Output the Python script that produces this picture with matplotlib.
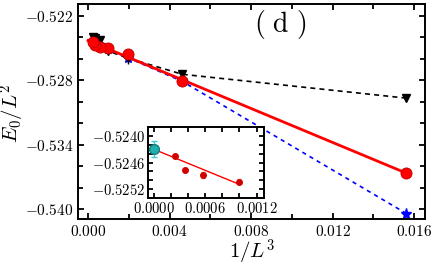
import numpy as np
import matplotlib
matplotlib.use("Agg")
import matplotlib.pyplot as plt
from matplotlib.ticker import MultipleLocator, FixedLocator, FuncFormatter

plt.rcParams['mathtext.fontset'] = 'cm'
plt.rcParams['font.family'] = 'serif'
plt.rcParams['font.serif'] = ['DejaVu Serif']

# system sizes L = 4, 6, 8, 10, 12, 14, 16
L = np.array([4, 6, 8, 10, 12, 14, 16])
x = 1.0 / L**3

# energies per site
e_black = [-0.52966, -0.52744, -0.52594, -0.52528, -0.52425, -0.52410, -0.52395]
err_black = [0.0003, 0.0002, 0.0005, 0.0002, 0.0001, 0.0001, 0.0001]
e_blue = [-0.54040, -0.52810, -0.52590, -0.52510, -0.52470, -0.52460, -0.52430]
err_blue = [0.0003, 0.0002, 0.0003, 0.0001, 0.0001, 0.0001, 0.0001]
e_red = [-0.53660, -0.52803, -0.52559, -0.52503, -0.52488, -0.52476, -0.52445]

# linear fit of red points
fit_e0 = -0.5243
fit_slope = -0.79

# inset data (L = 10, 12, 14, 16) and extrapolated value
inset_x = x[3:]
inset_e = e_red[3:]
inset_err = [0.00005, 0.00006, 0.00003, 0.00003]
extrap_e = -0.5243
extrap_err = 0.00018
inset_yticks = [-0.5252, -0.5246, -0.5240]

fig = plt.figure(figsize=(4.36, 2.67), dpi=100)
ax = fig.add_axes([0.179, 0.180, 0.796, 0.805])

ax.errorbar(x, e_black, yerr=err_black, fmt='v', color='black', ms=6,
            ls=(0, (3, 2.5)), lw=1.2, capsize=0, elinewidth=1, zorder=3)
ax.errorbar(x, e_blue, yerr=err_blue, fmt='*', color='blue', ms=8,
            ls=(0, (2.5, 2.5)), lw=1.2, capsize=0, elinewidth=1, zorder=2)
xf = np.array([0.0, x[0]])
ax.plot(xf, fit_e0 + fit_slope * xf, color='red', lw=2, zorder=4)
ax.plot(x, e_red, 'o', color='red', mec='#c00000', mew=0.6, ms=8, zorder=5)

ax.set_xlim(-0.00049, 0.01654)
ax.set_ylim(-0.5409, -0.5209)
ax.xaxis.set_major_locator(MultipleLocator(0.004))
ax.xaxis.set_minor_locator(MultipleLocator(0.002))
ax.yaxis.set_major_locator(MultipleLocator(0.006))
ax.yaxis.set_minor_locator(MultipleLocator(0.002))
ax.xaxis.set_major_formatter(FuncFormatter(lambda v, p: f'${v:.3f}$'))
ax.yaxis.set_major_formatter(FuncFormatter(lambda v, p: f'${v:.3f}$'))
ax.tick_params(which='both', direction='in', top=True, right=True, width=1.3, labelsize=11)
ax.tick_params(which='major', length=4)
ax.tick_params(which='minor', length=3.5)
for s in ax.spines.values():
    s.set_linewidth(1.4)
ax.set_xlabel(r'$1/L^3$', fontsize=15)
ax.xaxis.set_label_coords(0.5, -0.09)
ax.set_ylabel(r'$E_0/L^2$', fontsize=15)
ax.yaxis.set_label_coords(-0.148, 0.49)
ax.text(0.582, 0.905, r'$(\ \mathrm{d}\ )$', transform=ax.transAxes, fontsize=20,
        ha='center', va='center')

ins = fig.add_axes([0.339, 0.258, 0.267, 0.266])
xi = np.array([0.0, inset_x[0]])
ins.plot(xi, extrap_e + fit_slope * xi, color='red', lw=1)
ins.errorbar(inset_x, inset_e, yerr=inset_err, fmt='o', color='#d00000', ms=4,
             ecolor='#f08080', elinewidth=1, capsize=1.5)
ins.errorbar([0.0], [extrap_e], yerr=[extrap_err], fmt='o', color='#20b0b0',
             mec='#108080', ms=7, ecolor='#40d0d0', elinewidth=1, capsize=2, zorder=5)
ins.set_xlim(-0.00007, 0.00129)
ins.set_ylim(-0.52540, -0.52380)
ins.xaxis.set_major_locator(MultipleLocator(0.0006))
ins.xaxis.set_minor_locator(MultipleLocator(0.0002))
ins.yaxis.set_major_locator(FixedLocator(inset_yticks))
ins.yaxis.set_minor_locator(MultipleLocator(0.0002))
ins.xaxis.set_major_formatter(FuncFormatter(lambda v, p: f'${v:.4f}$'))
ins.yaxis.set_major_formatter(FuncFormatter(lambda v, p: f'${v:.4f}$'))
ins.tick_params(which='both', direction='in', top=True, right=True, width=1.3,
                length=3.5, labelsize=10.5, pad=2)
for s in ins.spines.values():
    s.set_linewidth(1.4)

fig.savefig('out.png', dpi=100)
